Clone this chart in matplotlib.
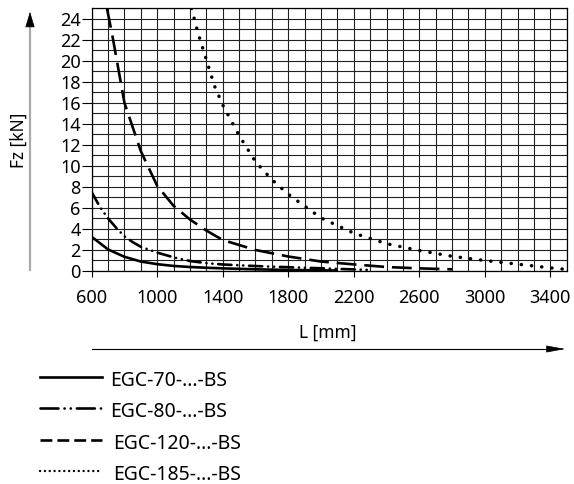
import matplotlib.pyplot as plt
import numpy as np
from matplotlib.ticker import MultipleLocator
from matplotlib.lines import Line2D

plt.rcParams['font.family'] = ['Noto Sans', 'DejaVu Sans']

# Fz [kN] over stroke length L [mm] for each axis size
L_70 = [600, 700, 800, 900, 1000, 1100, 1200, 1300, 1400, 1600, 1800, 2000, 2100]
F_70 = [3.25, 2.05, 1.35, 0.9, 0.65, 0.48, 0.38, 0.31, 0.25, 0.16, 0.1, 0.06, 0.05]

L_80 = [600, 650, 700, 750, 800, 850, 900, 1000, 1100, 1200, 1300, 1400, 1600, 1800, 2000, 2200, 2300]
F_80 = [7.5, 6.1, 5.0, 4.1, 3.3, 2.75, 2.3, 1.75, 1.3, 0.95, 0.75, 0.62, 0.47, 0.36, 0.26, 0.15, 0.1]

L_120 = [693, 725, 800, 900, 1000, 1100, 1200, 1300, 1400, 1600, 1800, 2000, 2200, 2400, 2600, 2800]
F_120 = [25, 22.5, 16.0, 11.4, 8.1, 6.2, 4.9, 3.85, 2.95, 2.0, 1.38, 0.9, 0.63, 0.38, 0.25, 0.16]

L_185 = [1209, 1250, 1300, 1350, 1400, 1500, 1600, 1700, 1800, 2000, 2200, 2400, 2600, 2800, 3000, 3200, 3400, 3500]
F_185 = [25, 22.6, 20.1, 17.6, 15.8, 12.9, 10.4, 8.7, 7.3, 5.05, 3.6, 2.6, 1.95, 1.4, 1.0, 0.65, 0.3, 0.15]

names = ['EGC-70-...-BS', 'EGC-80-...-BS', 'EGC-120-...-BS', 'EGC-185-...-BS']
x_ticks = [600, 1000, 1400, 1800, 2200, 2600, 3000, 3400]
y_ticks = list(range(0, 25, 2))

W, H = 574, 484
fig = plt.figure(figsize=(W / 100, H / 100), dpi=100)

def px(x0, y0, x1, y1):
    return [x0 / W, 1 - y1 / H, (x1 - x0) / W, (y1 - y0) / H]

ax = fig.add_axes(px(91.7, 8.3, 566.7, 271))
ax.set_xlim(600, 3500)
ax.set_ylim(0, 25)

ax.xaxis.set_major_locator(plt.FixedLocator(x_ticks))
ax.yaxis.set_major_locator(plt.FixedLocator(y_ticks))
ax.xaxis.set_minor_locator(MultipleLocator(100))
ax.yaxis.set_minor_locator(MultipleLocator(1))
ax.grid(which='both', color='#222222', lw=0.8)
ax.tick_params(which='minor', length=0)
ax.tick_params(axis='y', which='major', length=7, width=0.8, pad=1, labelsize=13)
ax.tick_params(axis='x', which='major', length=4, width=0.8, pad=9, labelsize=13)
for s in ax.spines.values():
    s.set_linewidth(0.9)
ax.set_axisbelow(True)

lw = 1.9
ax.plot(L_70, F_70, color='black', lw=lw, solid_capstyle='butt')
ax.plot(L_80, F_80, color='black', lw=lw, linestyle=(0, (5, 2.2, 0.05, 2.2, 0.05, 2.2)),
        dash_capstyle='round')
ax.plot(L_120, F_120, color='black', lw=lw, linestyle=(0, (7.5, 3)), dash_capstyle='butt')
ax.plot(L_185, F_185, color='black', lw=2.5, linestyle=(0, (0.05, 2.9)), dash_capstyle='round')

# overlay in pixel coordinates for arrows, axis titles and key
ov = fig.add_axes([0, 0, 1, 1], facecolor='none')
ov.set_xlim(0, W)
ov.set_ylim(H, 0)
ov.axis('off')

ov.plot([30, 30], [270, 24], color='#aaaaaa', lw=1.6)
ov.annotate('', xy=(30, 9), xytext=(30, 26),
            arrowprops=dict(arrowstyle='-|>,head_length=1.0,head_width=0.3', color='black', lw=0.5))
ov.text(18.5, 140, 'Fz [kN]', rotation=90, ha='center', va='center', fontsize=12.5)

ov.plot([92, 550], [349, 349], color='black', lw=0.8)
ov.annotate('', xy=(568, 349), xytext=(548, 349),
            arrowprops=dict(arrowstyle='-|>,head_length=1.2,head_width=0.22', color='black', lw=0.5))
ov.text(328, 333, 'L [mm]', ha='center', va='center', fontsize=12.5)

key_y = [377, 408, 440, 471]
key_text_x = [110, 110, 113, 113]
key_styles = [
    dict(linestyle='-', lw=1.9),
    dict(linestyle=(0, (6.8, 2.3, 0.05, 2.3, 0.05, 2.3)), lw=1.9, dash_capstyle='round'),
    dict(linestyle=(0, (4.5, 1.9)), lw=1.9),
    dict(linestyle=(0, (0.05, 2.0)), lw=1.7, dash_capstyle='round'),
]
for y, tx, name, st in zip(key_y, key_text_x, names, key_styles):
    ov.add_line(Line2D([40, 102], [y, y], color='black', **st))
    ov.text(tx, y + 4, name, ha='left', va='center', fontsize=14)

fig.savefig('out.png', dpi=100)
